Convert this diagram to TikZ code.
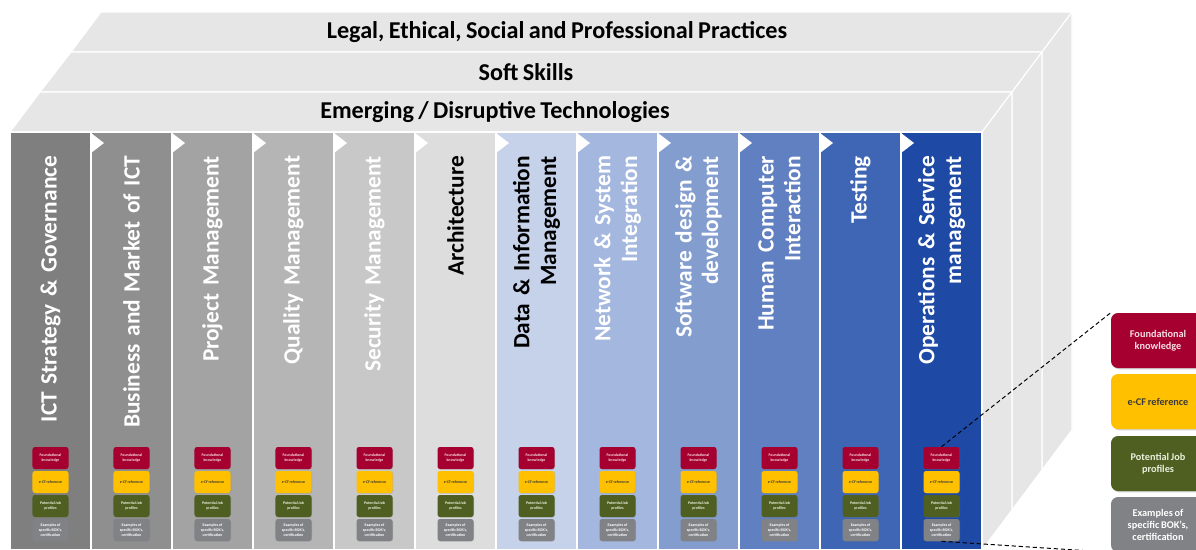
\documentclass[tikz,border=0pt]{standalone}
\usepackage{fontspec}
\setmainfont{Carlito}[WordSpace=0.8]
\usetikzlibrary{shadows}

\definecolor{layer}{HTML}{E6E6E6}
\definecolor{fkred}{HTML}{A5002F}
\definecolor{ecfgold}{HTML}{FFC000}
\definecolor{jobolive}{HTML}{4F5F22}
\definecolor{bokgrey}{HTML}{808285}
\definecolor{ltpink}{HTML}{F6DDE3}
\definecolor{ltgreen}{HTML}{EAF0DC}
\definecolor{darktext}{HTML}{3A3A3A}
\definecolor{colA}{HTML}{7F7F7F}
\definecolor{colB}{HTML}{8F8F8F}
\definecolor{colC}{HTML}{A3A3A3}
\definecolor{colD}{HTML}{B5B5B5}
\definecolor{colE}{HTML}{C8C8C8}
\definecolor{colF}{HTML}{DDDDDD}
\definecolor{colG}{HTML}{C5D2E9}
\definecolor{colH}{HTML}{A4B7DE}
\definecolor{colI}{HTML}{839DCF}
\definecolor{colJ}{HTML}{6180C1}
\definecolor{colK}{HTML}{3F65B5}
\definecolor{colL}{HTML}{1E4AA5}

\tikzset{
  layerface/.style={fill=layer, draw=white, line width=0.8pt, line join=round},
  bandtitle/.style={font=\bfseries\fontsize{17.2}{18}\selectfont},
  colbox/.style={rotate=90, fill=#1, draw=white, line width=0.8pt, text=white,
    text width=9.225cm, align=right, inner xsep=0.6cm, inner ysep=0pt,
    minimum height=2.025cm, font=\bfseries\fontsize{16.6}{19}\selectfont},
  minibox/.style={fill=#1, rounded corners=1.8pt, minimum width=0.9cm, minimum height=0.55cm,
    inner sep=0pt, align=center, font=\bfseries\fontsize{2.8}{3.3}\selectfont,
    drop shadow={shadow xshift=0.4pt, shadow yshift=-0.4pt, opacity=0.35}},
  bigbox/.style={fill=#1, rounded corners=5pt, minimum width=2.35cm, minimum height=1.375cm,
    inner sep=0pt, align=center, font=\bfseries\fontsize{7.3}{8.5}\selectfont,
    drop shadow={shadow xshift=1pt, shadow yshift=-1pt, opacity=0.35}},
  zoomlink/.style={dash pattern=on 3pt off 2pt, line width=0.7pt}
}

\begin{document}
\begin{tikzpicture}[x=0.025cm, y=-0.025cm]
\useasboundingbox (0,0) rectangle (1196,549);
\clip (0,0) rectangle (1196,549);

\fill[white] (0,0) rectangle (1196,549);
\draw[layerface] (101,12) -- (1072,12) -- (1042,52) -- (71,52) -- cycle;
\draw[layerface] (71,52) -- (1042,52) -- (1012,92) -- (40,92) -- cycle;
\draw[layerface] (40,92) -- (1012,92) -- (982,132) -- (10,132) -- cycle;
\draw[layerface] (1072,12) -- (1072,430) -- (1042,470) -- (1042,52) -- cycle;
\draw[layerface] (1042,52) -- (1042,470) -- (1012,510) -- (1012,92) -- cycle;
\draw[layerface] (1012,92) -- (1012,510) -- (982,550) -- (982,132) -- cycle;

\node[bandtitle] (legal) at (557,32) {Legal, Ethical, Social and Professional Practices};
\node[bandtitle] (soft) at (526,72) {Soft Skills};
\node[bandtitle] (emerging) at (495,112) {Emerging / Disruptive Technologies};

\node[colbox=colA] (ict) at (50.5,340.5) {ICT Strategy \& Governance};
\node[colbox=colB] (business) at (131.5,340.5) {Business and Market of ICT};
\node[colbox=colC] (project) at (212.5,340.5) {Project Management};
\node[colbox=colD] (quality) at (293.5,340.5) {Quality Management};
\node[colbox=colE] (security) at (374.5,340.5) {Security Management};
\node[colbox=colF, text=black] (architecture) at (455.5,340.5) {Architecture};
\node[colbox=colG, text=black] (data) at (536.5,340.5) {Data \& Information\\Management};
\node[colbox=colH] (network) at (617.5,340.5) {Network \& System\\Integration};
\node[colbox=colI] (software) at (698.5,340.5) {Software design \&\\development};
\node[colbox=colJ] (human) at (779.5,340.5) {Human Computer\\Interaction};
\node[colbox=colK] (testing) at (860.5,340.5) {Testing};
\node[colbox=colL] (operations) at (941.5,340.5) {Operations \& Service\\management};

\foreach \x in {91,172,...,901}
  \fill[white] (\x,133) -- ++(13,10) -- ++(-13,10) -- cycle;

\foreach \i in {1,...,12}{
  \pgfmathsetmacro{\cx}{81*\i-30.5}
  \node[minibox=fkred, text=ltpink] (f\i) at (\cx,458) {Foundational\\knowledge};
  \node[minibox=ecfgold, text=darktext] (e\i) at (\cx,482) {e-CF reference};
  \node[minibox=jobolive, text=ltgreen] (p\i) at (\cx,506) {Potential Job\\profiles};
  \node[minibox=bokgrey, text=white] (b\i) at (\cx,530) {Examples of\\specific BOK's,\\certification};
}

\node[bigbox=fkred, text=ltpink] (fkbig) at (1158,340.5) {Foundational\\knowledge};
\node[bigbox=ecfgold, text=darktext] (ecfbig) at (1158,401.5) {e-CF reference};
\node[bigbox=jobolive, text=ltgreen] (jobbig) at (1158,463.5) {Potential Job\\profiles};
\node[bigbox=bokgrey, text=white] (bokbig) at (1158,524.5) {Examples of\\specific BOK's,\\certification};

\draw[zoomlink] (f12.north) -- (fkbig.north west);
\draw[zoomlink] (b12.south) -- (bokbig.south west);
\end{tikzpicture}
\end{document}
